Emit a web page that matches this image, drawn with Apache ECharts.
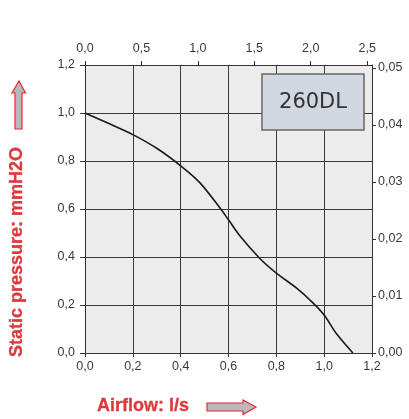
<!DOCTYPE html>
<html>
<head>
<meta charset="utf-8">
<script src="https://cdn.jsdelivr.net/npm/echarts@6/dist/echarts.min.js"></script>
<style>
html,body{margin:0;padding:0;background:#fff;}
#chart{width:409px;height:419px;}
</style>
</head>
<body>
<div id="chart"></div>
<script>
// Airflow (l/s) and static pressure (mmH2O)
const airflow  = [0, 0.10, 0.20, 0.30, 0.40, 0.48, 0.56, 0.60, 0.65, 0.73, 0.80, 0.885, 0.955, 1.00, 1.05, 1.12];
const pressure = [1.0, 0.956, 0.91, 0.853, 0.78, 0.71, 0.61, 0.555, 0.485, 0.395, 0.333, 0.27, 0.207, 0.158, 0.082, 0.0];
const bottomTicks = [0, 0.2, 0.4, 0.6, 0.8, 1.0, 1.2];
const leftTicks = [0, 0.2, 0.4, 0.6, 0.8, 1.0, 1.2];
const topTicks = [0, 0.5, 1.0, 1.5, 2.0, 2.5];
const rightTicks = [0, 0.01, 0.02, 0.03, 0.04, 0.05];
const modelName = '260DL';
const xTitle = 'Airflow: l/s';
const yTitle = 'Static pressure: mmH2O';

const topMax = 2.543;    // CFM equivalent of 1.2 l/s
const rightMax = 0.0505; // secondary pressure scale at top of plot

const fmt = (d) => (v) => v.toFixed(d).replace('.', ',');
const onTick = (ticks, d) => (v) => ticks.some(t => Math.abs(t - v) < 1e-6) ? v.toFixed(d).replace('.', ',') : '';

const axisColor = '#333';
const labelStyle = { color: '#3a3a3a', fontSize: 12.5, fontFamily: 'Liberation Sans, Arial, sans-serif' };
const noMinor = { show: false };
const line = { show: true, onZero: false, lineStyle: { color: axisColor, width: 1 } };

const chart = echarts.init(document.getElementById('chart'));
chart.setOption({
  animation: false,
  backgroundColor: '#fff',
  grid: {
    left: 85, right: 37, top: 65, bottom: 66,
    show: true, backgroundColor: '#ececec', borderWidth: 0,
    containLabel: false, outerBoundsMode: 'none'
  },
  xAxis: [
    {
      type: 'value', position: 'bottom', min: bottomTicks[0], max: bottomTicks[bottomTicks.length - 1], interval: 0.2,
      axisLine: line,
      axisTick: { show: true, inside: false, length: 4, lineStyle: { color: axisColor } },
      minorTick: noMinor, minorSplitLine: noMinor,
      axisLabel: Object.assign({ formatter: fmt(1), margin: 7 }, labelStyle),
      splitLine: { show: true, lineStyle: { color: '#3a3a3a', width: 1 } }
    },
    {
      type: 'value', position: 'top', min: 0, max: topMax, interval: 0.5,
      axisLine: line,
      axisTick: { show: true, inside: false, length: 4, lineStyle: { color: axisColor } },
      minorTick: noMinor, minorSplitLine: noMinor,
      axisLabel: Object.assign({ formatter: onTick(topTicks, 1), margin: 10, showMaxLabel: false }, labelStyle),
      splitLine: { show: false }
    }
  ],
  yAxis: [
    {
      type: 'value', position: 'left', min: leftTicks[0], max: leftTicks[leftTicks.length - 1], interval: 0.2,
      axisLine: line,
      axisTick: { show: true, inside: false, length: 5, lineStyle: { color: axisColor } },
      minorTick: noMinor, minorSplitLine: noMinor,
      axisLabel: Object.assign({ formatter: fmt(1), margin: 10 }, labelStyle),
      splitLine: { show: true, lineStyle: { color: '#3a3a3a', width: 1 } }
    },
    {
      type: 'value', position: 'right', min: 0, max: rightMax, interval: 0.01,
      axisLine: line,
      axisTick: { show: true, inside: false, length: 4, lineStyle: { color: axisColor } },
      minorTick: noMinor, minorSplitLine: noMinor,
      axisLabel: Object.assign({ formatter: onTick(rightTicks, 2), margin: 6, showMaxLabel: false }, labelStyle),
      splitLine: { show: false }
    }
  ],
  series: [{
    type: 'line',
    xAxisIndex: 0, yAxisIndex: 0,
    data: airflow.map((x, i) => [x, pressure[i]]),
    smooth: 0.3,
    showSymbol: false,
    lineStyle: { color: '#1a1a1a', width: 1.6 },
    z: 5
  }],
  graphic: [
    {
      type: 'rect', z: 100,
      shape: { x: 262, y: 74, width: 102, height: 56 },
      style: { fill: '#d2d8e2', stroke: '#666', lineWidth: 1.5 }
    },
    {
      type: 'text', z: 101, x: 313, y: 103,
      style: { text: modelName, fill: '#333', font: '21px "DejaVu Sans", Verdana, sans-serif', textAlign: 'center', textVerticalAlign: 'middle' }
    },
    {
      type: 'text', z: 101, x: 17, y: 252, rotation: Math.PI / 2,
      style: { text: yTitle, fill: '#e0373c', stroke: '#c4494c', lineWidth: 0.3, font: 'bold 18px "Liberation Sans", Arial, sans-serif', textAlign: 'center', textVerticalAlign: 'middle' }
    },
    {
      type: 'text', z: 101, x: 97, y: 406,
      style: { text: xTitle, fill: '#e0373c', stroke: '#c4494c', lineWidth: 0.3, font: 'bold 18px "Liberation Sans", Arial, sans-serif', textAlign: 'left', textVerticalAlign: 'middle' }
    },
    {
      type: 'polygon', z: 101,
      shape: { points: [[19, 81], [25.5, 93], [22, 93], [22, 129], [15, 129], [15, 93], [12, 93]] },
      style: { fill: '#b9b9bb', stroke: '#e02a2e', lineWidth: 1.2 }
    },
    {
      type: 'polygon', z: 101,
      shape: { points: [[256, 407], [243, 400], [243, 403], [207, 403], [207, 411], [243, 411], [243, 414.5]] },
      style: { fill: '#b9b9bb', stroke: '#e02a2e', lineWidth: 1.2 }
    }
  ]
});
</script>
</body>
</html>
